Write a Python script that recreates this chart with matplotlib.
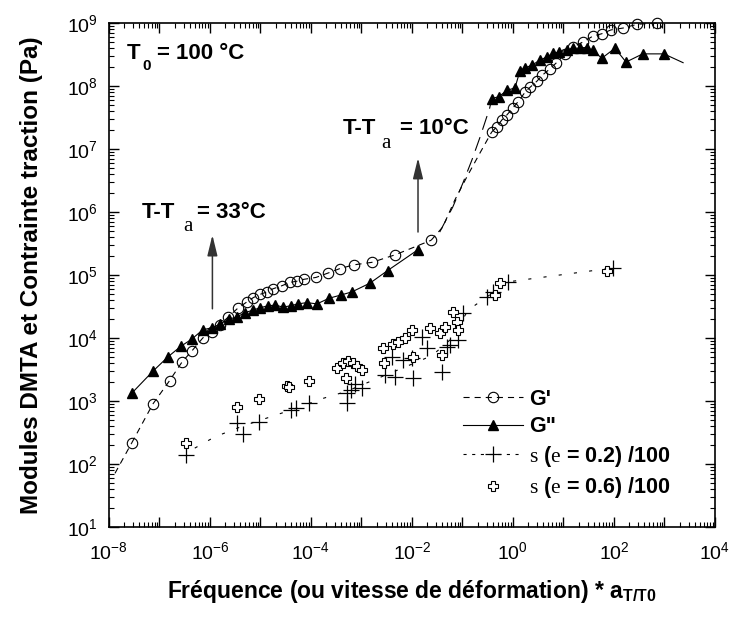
import numpy as np
import matplotlib
matplotlib.use('Agg')
import matplotlib.pyplot as plt
from matplotlib import font_manager
from matplotlib.lines import Line2D
from matplotlib.ticker import LogLocator, FuncFormatter, NullFormatter

# narrow bold sans for axes text if it is there, Arial-like otherwise
_installed = {f.name for f in font_manager.fontManager.ttflist}
NARROW = 'Liberation Sans Narrow' in _installed
AX_FONT = 'Liberation Sans Narrow' if NARROW else 'Liberation Sans'
SZ_TICK, SZ_XLAB, SZ_YLAB, SZ_LEG = (15, 20, 21, 16.5) if NARROW else (14, 16.5, 17.5, 15.5)

plt.rcParams.update({
    'font.family': ['Liberation Sans', 'DejaVu Sans'],
    'mathtext.fontset': 'custom',
    'mathtext.rm': AX_FONT,
    'mathtext.bf': AX_FONT + ':bold',
    'mathtext.sf': 'Liberation Serif',
    'mathtext.it': AX_FONT + ':italic',
})

# ---------------------------------------------------------------------------
# Data, as log10 of frequency * aT/T0 and log10 of Pa
# ---------------------------------------------------------------------------

# G' (open circles)
gp_logf = [-7.55, -7.13, -6.80, -6.55, -6.36, -6.14, -5.96, -5.80, -5.64, -5.45,
           -5.27, -5.14, -5.01, -4.87, -4.75, -4.57, -4.42, -4.28, -4.14, -3.90,
           -3.66, -3.43, -3.15, -2.79, -2.33, -1.62,
           -0.42, -0.32, -0.22, -0.12, 0.00, 0.10, 0.24, 0.34, 0.48, 0.58,
           0.73, 0.85, 1.03, 1.19, 1.39, 1.58, 1.76, 1.94, 2.18, 2.46, 2.85]
gp_logv = [2.33, 2.95, 3.32, 3.62, 3.79, 4.00, 4.10, 4.21, 4.33, 4.47,
           4.57, 4.64, 4.69, 4.73, 4.78, 4.83, 4.88, 4.90, 4.93, 4.96,
           5.03, 5.10, 5.16, 5.20, 5.32, 5.55,
           7.27, 7.35, 7.46, 7.54, 7.65, 7.75, 7.90, 7.98, 8.08, 8.17,
           8.27, 8.36, 8.51, 8.62, 8.70, 8.79, 8.83, 8.89, 8.92, 8.98, 9.00]
# dashed G' line without markers (low-frequency tail and glass transition)
gp_tail_logf = [-7.88, -7.55]
gp_tail_logv = [1.85, 2.33]
gp_bridge_logf = [-1.62, -1.39, -1.15, -0.91, -0.65, -0.42]
gp_bridge_logv = [5.55, 5.76, 6.19, 6.56, 6.94, 7.27]

# G'' (filled triangles)
gpp_logf = [-7.55, -7.13, -6.83, -6.57, -6.36, -6.14, -5.96, -5.80, -5.62, -5.47,
            -5.31, -5.15, -5.00, -4.85, -4.71, -4.55, -4.40, -4.26, -4.08, -3.88,
            -3.64, -3.41, -3.19, -2.83, -2.48, -1.88,
            -0.42, -0.28, -0.12, 0.04, 0.14, 0.24, 0.38, 0.53, 0.67, 0.80,
            0.92, 1.07, 1.19, 1.33, 1.47, 1.58, 1.76, 2.02, 2.24, 2.57, 2.99]
gpp_logv = [3.12, 3.47, 3.70, 3.87, 3.98, 4.13, 4.16, 4.22, 4.30, 4.33,
            4.40, 4.44, 4.48, 4.51, 4.52, 4.49, 4.51, 4.54, 4.56, 4.54,
            4.63, 4.68, 4.73, 4.87, 5.07, 5.40,
            7.80, 7.83, 7.93, 7.97, 8.24, 8.29, 8.33, 8.41, 8.46, 8.52,
            8.54, 8.57, 8.60, 8.60, 8.60, 8.57, 8.44, 8.60, 8.38, 8.51, 8.51]
gpp_end_logf = [2.99, 3.37]
gpp_end_logv = [8.51, 8.37]
gpp_bridge_logf = [-1.45, -1.19, -0.99, -0.81, -0.65, -0.46, -0.42]
gpp_bridge_logv = [5.68, 6.08, 6.46, 6.83, 7.19, 7.65, 7.80]

# sigma (e = 0.2) / 100 (plus)
s02_logf = [-6.48, -5.47, -5.35, -5.03, -4.40, -4.30, -4.03, -3.29, -3.29, -3.21,
            -3.13, -2.99, -2.53, -2.40, -2.34, -2.18, -2.00, -1.98, -1.80, -1.70,
            -1.41, -1.31, -1.25, -1.09, -0.99, -0.51, -0.40, -0.10, 1.98]
s02_logv = [2.14, 2.65, 2.48, 2.67, 2.86, 2.88, 2.97, 2.97, 3.13, 3.17,
            3.27, 3.20, 3.41, 3.70, 3.38, 3.65, 3.68, 3.37, 4.02, 3.84,
            3.46, 3.86, 3.89, 3.97, 4.40, 4.65, 4.73, 4.89, 5.11]
# dotted trend line through sigma (e = 0.2)
s02_line_logf = [-6.30, -5.90, -5.35, -4.90, -4.30, -3.80, -3.30, -2.70, -2.10,
                 -1.60, -1.20, -0.89, -0.50, -0.10, 1.98]
s02_line_logv = [2.25, 2.43, 2.60, 2.72, 2.88, 3.03, 3.15, 3.35, 3.55,
                 3.72, 4.00, 4.44, 4.66, 4.89, 5.11]

# sigma (e = 0.6) / 100 (open cross)
s06_logf = [-6.48, -5.47, -5.03, -4.48, -4.44, -4.04, -3.49, -3.37, -3.27, -3.17,
            -3.09, -2.99, -3.31, -2.57, -2.55, -2.38, -2.28, -2.14, -2.00, -1.98,
            -1.64, -1.45, -1.35, -1.41, -1.19, -1.11, -1.09, -0.36, -0.26, 1.86]
s06_logv = [2.33, 2.91, 3.03, 3.24, 3.22, 3.32, 3.52, 3.60, 3.63, 3.60,
            3.56, 3.49, 3.37, 3.84, 3.60, 3.90, 3.93, 4.00, 4.13, 3.70,
            4.16, 4.08, 4.17, 3.73, 4.41, 4.25, 4.13, 4.68, 4.87, 5.06]

# arrows (x, y_start, y_end)
arrow_33 = (1.12e-6, 2.9e4, 4.3e5)
arrow_10 = (1.32e-2, 4.8e5, 7.2e6)


def p10(a):
    return 10.0 ** np.asarray(a)


fig = plt.figure(figsize=(7.31, 6.22), dpi=100)
ax = fig.add_axes([0.149, 0.153, 0.829, 0.810])
ax.set_xscale('log')
ax.set_yscale('log')
ax.set_xlim(1e-8, 1e4)
ax.set_ylim(1e1, 1e9)

gp_dash = (0, (5.5, 4.5))
long_dash = (0, (13, 7))
dot_dash = (0, (2.8, 11))

# G'
ax.plot(p10(gp_tail_logf), p10(gp_tail_logv), color='black', lw=0.8, ls=gp_dash)
ax.plot(p10(gp_bridge_logf), p10(gp_bridge_logv), color='black', lw=0.8, ls=gp_dash)
ax.plot(p10(gp_logf[:26]), p10(gp_logv[:26]), color='black', lw=0.8, ls=gp_dash,
        marker='o', ms=7.5, mfc='none', mec='black', mew=0.8, clip_on=False)
ax.plot(p10(gp_logf[26:]), p10(gp_logv[26:]), color='black', lw=0.8, ls=gp_dash,
        marker='o', ms=7.5, mfc='none', mec='black', mew=0.8, clip_on=False)

# G''
ax.plot(p10(gpp_bridge_logf), p10(gpp_bridge_logv), color='black', lw=0.8, ls=long_dash)
ax.plot(p10(gpp_end_logf), p10(gpp_end_logv), color='black', lw=0.8)
ax.plot(p10(gpp_logf[:26]), p10(gpp_logv[:26]), color='black', lw=0.8,
        marker='^', ms=7.5, mfc='black', mec='black')
ax.plot(p10(gpp_logf[26:]), p10(gpp_logv[26:]), color='black', lw=0.8,
        marker='^', ms=7.5, mfc='black', mec='black')

# sigma
ax.plot(p10(s02_line_logf), p10(s02_line_logv), color='black', lw=0.8, ls=dot_dash)
ax.plot(p10(s02_logf), p10(s02_logv), ls='none', marker='+', ms=11, mew=0.9,
        color='black')
ax.plot(p10(s06_logf), p10(s06_logv), ls='none', marker='P', ms=6.5, mfc='white',
        mec='black', mew=0.8)

# arrows
for xa, y0, y1 in (arrow_33, arrow_10):
    ax.annotate('', xy=(xa, y1), xytext=(xa, y0),
                arrowprops=dict(arrowstyle='-|>,head_width=0.22,head_length=0.9',
                                color='#333333', lw=1.1, shrinkA=0, shrinkB=0,
                                mutation_scale=14))

# annotations
bold = dict(fontsize=16, fontweight='bold', transform=ax.transAxes, va='baseline')
serif = dict(fontsize=15, family='Liberation Serif', transform=ax.transAxes,
             va='baseline')
ax.text(0.030, 0.929, 'T', **bold)
ax.text(0.056, 0.907, '0', fontsize=11, fontweight='bold', transform=ax.transAxes,
        va='baseline')
ax.text(0.079, 0.929, '= 100 °C', **bold)

ax.text(0.055, 0.613, 'T-T', **bold)
ax.text(0.122, 0.587, 'a', **serif)
ax.text(0.145, 0.613, '= 33°C', **bold)

ax.text(0.386, 0.780, 'T-T', **bold)
ax.text(0.450, 0.752, 'a', **serif)
ax.text(0.480, 0.780, '= 10°C', **bold)

# axes styling
for sp in ax.spines.values():
    sp.set_linewidth(1.2)
ax.xaxis.set_major_locator(LogLocator(base=10, numticks=20))
ax.xaxis.set_minor_locator(LogLocator(base=10, subs=np.arange(2, 10), numticks=200))
ax.yaxis.set_major_locator(LogLocator(base=10, numticks=20))
ax.yaxis.set_minor_locator(LogLocator(base=10, subs=np.arange(2, 10), numticks=200))


def fmt_x(v, pos):
    e = int(round(np.log10(v)))
    return f'$10^{{{e}}}$' if e % 2 == 0 else ''


def fmt_y(v, pos):
    e = int(round(np.log10(v)))
    return f'$10^{{{e}}}$'


ax.xaxis.set_major_formatter(FuncFormatter(fmt_x))
ax.yaxis.set_major_formatter(FuncFormatter(fmt_y))
ax.xaxis.set_minor_formatter(NullFormatter())
ax.yaxis.set_minor_formatter(NullFormatter())
ax.tick_params(which='both', direction='in', top=True, right=True, labelsize=SZ_TICK)
ax.tick_params(which='major', length=7, width=1.0)
ax.tick_params(axis='x', which='major', pad=10)
ax.tick_params(axis='y', which='major', pad=8)
ax.tick_params(which='minor', length=3.5, width=0.8)

ax.set_xlabel('Fréquence (ou vitesse de déformation) * a$_{\\mathbf{T/T0}}$',
              fontsize=SZ_XLAB, fontweight='bold', family=AX_FONT, labelpad=11)
ax.set_ylabel('Modules DMTA et Contrainte traction (Pa)', fontsize=SZ_YLAB,
              fontweight='bold', family=AX_FONT, labelpad=17)

# legend
handles = [
    Line2D([], [], color='black', lw=0.8, ls=gp_dash, marker='o', ms=7.5,
           mfc='none', mec='black', mew=0.8),
    Line2D([], [], color='black', lw=0.8, marker='^', ms=7.5, mfc='black'),
    Line2D([], [], color='black', lw=0.8, ls=(0, (2.8, 5)), marker='+', ms=11,
           mew=0.9),
    Line2D([], [], ls='none', marker='P', ms=6.5, mfc='white', mec='black', mew=0.8),
]
labels = ["G'", 'G"', '$\\mathsf{s}$ ($\\mathsf{e}$ = 0.2) /100',
          '$\\mathsf{s}$ ($\\mathsf{e}$ = 0.6) /100']
ax.legend(handles, labels, loc='center left', bbox_to_anchor=(0.584, 0.163),
          frameon=False, numpoints=1, handlelength=60 / (SZ_LEG * 1.389),
          handletextpad=0.3, labelspacing=0.3, borderpad=0, borderaxespad=0,
          prop=dict(family=AX_FONT, weight='bold', size=SZ_LEG))

fig.savefig('out.png', dpi=100)
